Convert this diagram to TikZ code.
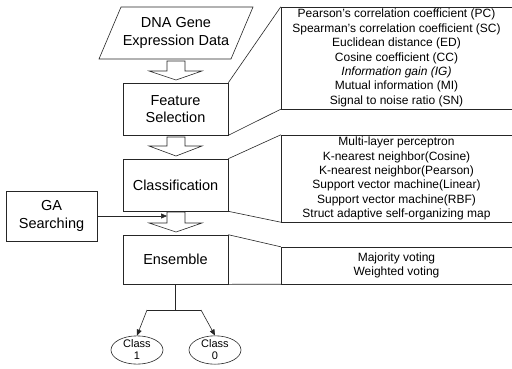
\documentclass[tikz,border=0pt]{standalone}
\usepackage{fontspec}
\setmainfont{Liberation Sans}
\usetikzlibrary{arrows.meta,shapes.geometric}
\begin{document}
\begin{tikzpicture}[x=1pt,y=-1pt,
  ln/.style={line width=0.6pt,draw=black!85},
  mainbox/.style={ln,rectangle,minimum width=105pt,inner sep=0pt,align=center,font=\fontsize{14.5}{17.5}\selectfont},
  listtxt/.style={rectangle,inner sep=0pt,minimum width=231pt,align=center,font=\fontsize{12}{14.4}\selectfont},
  classnode/.style={ln,ellipse,minimum width=52pt,minimum height=28pt,inner sep=0pt,align=center,font=\fontsize{11}{12}\selectfont},
  tip/.style={ln,-{Triangle[length=6pt,width=5pt]}},
  fat/.style={ln,fill=white}]
\useasboundingbox (0,0) rectangle (512,368);
\fill[white] (0,0) rectangle (512,368);

% input parallelogram
\draw[ln] (121,7) -- (253,7) -- (231,59) -- (99,59) -- cycle;
\node[align=center,inner sep=0pt,font=\fontsize{14.5}{17.5}\selectfont] (dna) at (176,33) {DNA Gene\\Expression Data};

% main boxes
\node[mainbox,minimum height=52pt] (fs) at (175.5,109) {Feature\\Selection};
\node[mainbox,minimum height=52pt] (cl) at (175.5,185) {Classification};
\node[mainbox,minimum height=49pt] (ens) at (175.5,259.5) {Ensemble};
\node[mainbox,minimum width=91pt,minimum height=50pt] (ga) at (51.5,216) {GA\\Searching};

% fat arrows
\draw[fat] (167,61) -- (185,61) -- (185,71) -- (202,71) -- (176,80) -- (149,71) -- (167,71) -- cycle;
\draw[fat] (167,137) -- (185,137) -- (185,146) -- (202,146) -- (176,156) -- (149,146) -- (167,146) -- cycle;
\draw[fat] (167,212) -- (185,212) -- (185,223) -- (202,223) -- (176,232) -- (149,223) -- (167,223) -- cycle;

% GA arrow
\coordinate (gaend) at (167,216);
\draw[tip] (ga.east) -- (gaend);

% list boxes
\node[listtxt,minimum height=102pt] (l1) at (396.5,58) {Pearson's correlation coefficient (PC)\\Spearman's correlation coefficient (SC)\\Euclidean distance (ED)\\Cosine coefficient (CC)\\\textit{Information gain (IG)}\\Mutual information (MI)\\Signal to noise ratio (SN)};
\node[listtxt,minimum height=87pt] (l2) at (396.5,178.5) {Multi-layer perceptron\\K-nearest neighbor(Cosine)\\K-nearest neighbor(Pearson)\\Support vector machine(Linear)\\Support vector machine(RBF)\\Struct adaptive self-organizing map};
\node[listtxt,minimum height=37pt] (l3) at (396.5,265.5) {Majority voting\\Weighted voting};

\draw[ln] (l1.north east) -- (l1.north west) -- (l1.south west) -- (l1.south east);
\draw[ln] (l2.north east) -- (l2.north west) -- (l2.south west) -- (l2.south east);
\draw[ln] (l3.north east) -- (l3.north west) -- (l3.south west) -- (l3.south east);

% callout lines
\draw[ln] (fs.north east) -- (l1.north west);
\draw[ln] (fs.south east) -- (l1.south west);
\draw[ln] (cl.north east) -- (l2.north west);
\draw[ln] (cl.south east) -- (l2.south west);
\draw[ln] (ens.north east) -- (l3.north west);
\draw[ln] (ens.south east) -- (l3.south west);

% classes
\node[classnode] (c1) at (137,350) {Class\\1};
\node[classnode] (c0) at (215,350) {Class\\0};
\coordinate (j) at (175.5,310);
\coordinate (jl) at (147,310);
\coordinate (jr) at (201,310);
\draw[ln] (ens.south) -- (j);
\draw[ln] (jl) -- (jr);
\draw[tip] (jl) -- (c1.north);
\draw[tip] (jr) -- (c0.north);
\end{tikzpicture}
\end{document}
